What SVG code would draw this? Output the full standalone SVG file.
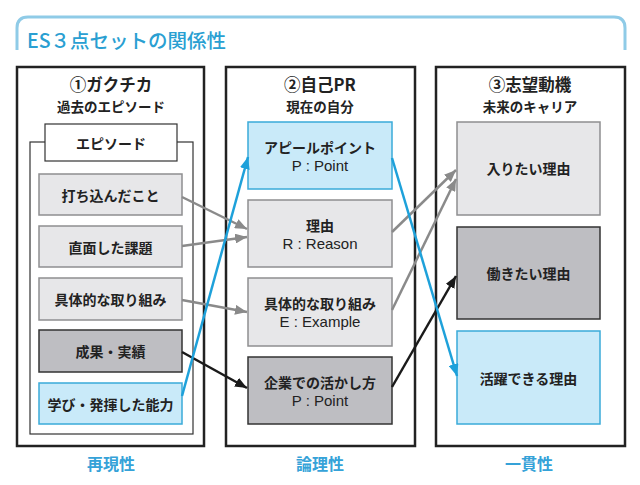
<svg xmlns="http://www.w3.org/2000/svg" width="640" height="485" viewBox="0 0 640 485">
<style>
text{font-family:"Noto Sans CJK JP","Noto Sans",sans-serif;font-weight:700;fill:#222;text-anchor:middle;dominant-baseline:central}
.col{fill:#fff;stroke:#222;stroke-width:2.5}
.hd{font-size:16.5px}
.sub{font-size:13.5px}
.it{font-size:14px}
.lat{font-family:"Liberation Sans","Noto Sans",sans-serif;font-weight:400;font-size:15px}
.lg{fill:#e7e7e9;stroke:#8e8e90;stroke-width:1.5}
.dg{fill:#bebec2;stroke:#333;stroke-width:1.5}
.lb{fill:#c9eaf9;stroke:#3aabd9;stroke-width:1.5}
.foot{font-size:16px;fill:#35a2d8}
.cg{stroke:#8a8a8a;stroke-width:2.5;fill:none;marker-end:url(#ag)}
.ck{stroke:#1a1a1a;stroke-width:2.5;fill:none;marker-end:url(#ak)}
.cb{stroke:#1ea1da;stroke-width:2.5;fill:none;marker-end:url(#ab)}
</style>
<defs>
<marker id="ag" markerUnits="userSpaceOnUse" markerWidth="12" markerHeight="10" refX="12" refY="5" orient="auto"><path d="M0,0 L12,5 L0,10 z" fill="#8a8a8a"/></marker>
<marker id="ak" markerUnits="userSpaceOnUse" markerWidth="12" markerHeight="10" refX="12" refY="5" orient="auto"><path d="M0,0 L12,5 L0,10 z" fill="#1a1a1a"/></marker>
<marker id="ab" markerUnits="userSpaceOnUse" markerWidth="12" markerHeight="10" refX="12" refY="5" orient="auto"><path d="M0,0 L12,5 L0,10 z" fill="#1ea1da"/></marker>
</defs>
<rect width="640" height="485" fill="#fff"/>
<g id="title">
<path d="M17,50 V28 Q17,17 28,17 H614 Q625,17 625,28 V50" fill="none" stroke="#8fcbe7" stroke-width="3"/>
<text x="27" y="39" style="text-anchor:start;font-size:19.5px;font-weight:500;fill:#2a9fd2">ES３点セットの関係性</text>
</g>
<g id="col1">
<rect class="col" x="17" y="67" width="187" height="379"/>
<text class="hd" x="111" y="84">①ガクチカ</text>
<text class="sub" x="111" y="106">過去のエピソード</text>
<rect x="30" y="142" width="163" height="292" fill="#fff" stroke="#333" stroke-width="1.2"/>
<rect x="45" y="124" width="132" height="37" fill="#fff" stroke="#333" stroke-width="1.2"/>
<text class="it" x="111" y="142.5">エピソード</text>
</g>
<g id="n1a"><rect class="lg" x="39" y="174" width="143" height="41"/><text class="it" x="110.5" y="194.5">打ち込んだこと</text></g>
<g id="n1b"><rect class="lg" x="39" y="226" width="143" height="41"/><text class="it" x="110.5" y="246.5">直面した課題</text></g>
<g id="n1c"><rect class="lg" x="39" y="278" width="143" height="42"/><text class="it" x="110.5" y="299">具体的な取り組み</text></g>
<g id="n1d"><rect class="dg" x="39" y="330" width="143" height="42"/><text class="it" x="110.5" y="351">成果・実績</text></g>
<g id="n1e"><rect class="lb" x="39" y="383" width="143" height="41"/><text class="it" x="110.5" y="403.5">学び・発揮した能力</text></g>
<g id="col2">
<rect class="col" x="226" y="67" width="189" height="379"/>
<text class="hd" x="320" y="84">②自己PR</text>
<text class="sub" x="320" y="106">現在の自分</text>
</g>
<g id="n2a"><rect class="lb" x="248" y="122" width="144" height="67"/><text class="it" x="320" y="146.5">アピールポイント</text><text class="lat" x="320" y="165">P : Point</text></g>
<g id="n2b"><rect class="lg" x="248" y="200" width="144" height="67"/><text class="it" x="320" y="224.5">理由</text><text class="lat" x="320" y="243">R : Reason</text></g>
<g id="n2c"><rect class="lg" x="248" y="278" width="144" height="68"/><text class="it" x="320" y="302.5">具体的な取り組み</text><text class="lat" x="320" y="321">E : Example</text></g>
<g id="n2d"><rect class="dg" x="248" y="357" width="144" height="67"/><text class="it" x="320" y="381.5">企業での活かし方</text><text class="lat" x="320" y="400">P : Point</text></g>
<g id="col3">
<rect class="col" x="436" y="67" width="189" height="379"/>
<text class="hd" x="530" y="84">③志望動機</text>
<text class="sub" x="530" y="106">未来のキャリア</text>
</g>
<g id="n3a"><rect class="lg" x="457" y="122" width="143" height="93"/><text class="it" x="528.5" y="168">入りたい理由</text></g>
<g id="n3b"><rect class="dg" x="457" y="227" width="143" height="92"/><text class="it" x="528.5" y="273">働きたい理由</text></g>
<g id="n3c"><rect class="lb" x="457" y="331" width="143" height="93"/><text class="it" x="528.5" y="378">活躍できる理由</text></g>
<g id="connectors">
<line class="cg" x1="182" y1="197" x2="247" y2="229"/>
<line class="cg" x1="182" y1="246" x2="247" y2="237"/>
<line class="cg" x1="182" y1="300" x2="247" y2="312"/>
<line class="cg" x1="392" y1="232" x2="456" y2="170"/>
<line class="cg" x1="392" y1="310" x2="456" y2="179"/>
<line class="ck" x1="182" y1="352" x2="247" y2="388"/>
<line class="ck" x1="392" y1="387" x2="456" y2="276"/>
<line class="cb" x1="182" y1="396" x2="248" y2="157"/>
<line class="cb" x1="392" y1="158" x2="457" y2="376"/>
</g>
<g id="footer">
<text class="foot" x="111" y="463">再現性</text>
<text class="foot" x="320" y="463">論理性</text>
<text class="foot" x="529" y="463">一貫性</text>
</g>
</svg>
